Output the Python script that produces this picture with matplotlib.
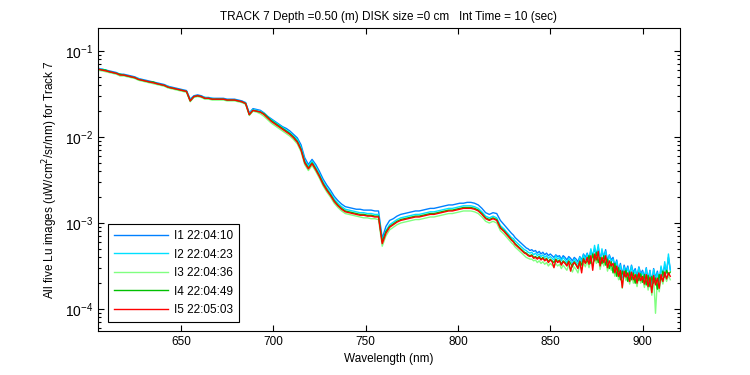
import numpy as np
import matplotlib
matplotlib.use("Agg")
import matplotlib.pyplot as plt
from matplotlib.ticker import FixedLocator, FixedFormatter

# --- Data (log10 of Lu, uW/cm^2/sr/nm) ---
# wavelength grid: 2 nm steps up to 829, then 1 nm steps to 915
wavelength = np.concatenate([np.arange(605, 830, 2), np.arange(830, 916, 1)])

labels = ["I1 22:04:10", "I2 22:04:23", "I3 22:04:36", "I4 22:04:49", "I5 22:05:03"]
colors = ["#0080ff", "#00e0ff", "#80ff80", "#00c000", "#ff0000"]

ytick_vals = [1e-4, 1e-3, 1e-2, 1e-1]
ytick_labels = ["$\\mathregular{10^{-4}}$", "$\\mathregular{10^{-3}}$",
                "$\\mathregular{10^{-2}}$", "$\\mathregular{10^{-1}}$"]

lu1_log = [
    -1.20, -1.21, -1.22, -1.23, -1.24, -1.25, -1.27, -1.27, -1.28, -1.29,
    -1.30, -1.32, -1.33, -1.34, -1.35, -1.36, -1.37, -1.38, -1.39, -1.41,
    -1.42, -1.43, -1.44, -1.45, -1.46, -1.56, -1.52, -1.51, -1.52, -1.54,
    -1.54, -1.55, -1.55, -1.55, -1.55, -1.56, -1.56, -1.56, -1.57, -1.58,
    -1.60, -1.72, -1.67, -1.68, -1.69, -1.72, -1.76, -1.79, -1.82, -1.85,
    -1.88, -1.90, -1.93, -1.97, -2.01, -2.09, -2.24, -2.32, -2.26, -2.32,
    -2.40, -2.49, -2.56, -2.62, -2.69, -2.74, -2.78, -2.81, -2.82, -2.83,
    -2.84, -2.84, -2.85, -2.85, -2.85, -2.86, -2.86, -3.18, -3.04, -2.97,
    -2.95, -2.92, -2.90, -2.89, -2.88, -2.87, -2.86, -2.86, -2.85, -2.84,
    -2.83, -2.83, -2.82, -2.81, -2.80, -2.79, -2.79, -2.78, -2.77, -2.77,
    -2.76, -2.76, -2.77, -2.79, -2.83, -2.88, -2.90, -2.88, -2.89, -2.97,
    -3.02, -3.07, -3.12,
    -3.14, -3.17, -3.19, -3.21, -3.23, -3.25, -3.27, -3.29, -3.30, -3.32,
    -3.31, -3.33, -3.32, -3.35, -3.33, -3.36, -3.34, -3.37, -3.35, -3.38,
    -3.36, -3.38, -3.40, -3.37, -3.39, -3.38, -3.42, -3.38, -3.40, -3.43,
    -3.39, -3.41, -3.44, -3.40, -3.42, -3.45, -3.39, -3.43, -3.36, -3.40,
    -3.35, -3.41, -3.32, -3.38, -3.30, -3.37, -3.28, -3.42, -3.33, -3.39,
    -3.31, -3.44, -3.37, -3.43, -3.40, -3.50, -3.43, -3.55, -3.47, -3.60,
    -3.49, -3.56, -3.50, -3.60, -3.49, -3.58, -3.53, -3.62, -3.51, -3.59,
    -3.55, -3.63, -3.52, -3.66, -3.55, -3.70, -3.53, -3.64, -3.56, -3.67,
    -3.52, -3.60, -3.49, -3.57, -3.40, -3.54,
]

lu2_log = [
    -1.21, -1.21, -1.22, -1.24, -1.25, -1.26, -1.27, -1.28, -1.29, -1.30,
    -1.31, -1.32, -1.34, -1.35, -1.36, -1.37, -1.38, -1.39, -1.40, -1.41,
    -1.43, -1.44, -1.45, -1.46, -1.47, -1.57, -1.53, -1.52, -1.53, -1.54,
    -1.55, -1.55, -1.56, -1.56, -1.56, -1.57, -1.57, -1.57, -1.58, -1.59,
    -1.60, -1.73, -1.68, -1.69, -1.70, -1.73, -1.77, -1.80, -1.83, -1.86,
    -1.89, -1.92, -1.95, -1.99, -2.03, -2.12, -2.27, -2.34, -2.28, -2.35,
    -2.43, -2.52, -2.59, -2.65, -2.72, -2.77, -2.81, -2.84, -2.85, -2.86,
    -2.87, -2.88, -2.88, -2.89, -2.89, -2.90, -2.90, -3.21, -3.09, -3.02,
    -2.99, -2.96, -2.94, -2.93, -2.92, -2.91, -2.90, -2.90, -2.89, -2.88,
    -2.87, -2.87, -2.86, -2.85, -2.84, -2.83, -2.83, -2.82, -2.81, -2.80,
    -2.80, -2.80, -2.81, -2.83, -2.87, -2.92, -2.94, -2.92, -2.94, -3.03,
    -3.07, -3.12, -3.17,
    -3.18, -3.21, -3.23, -3.25, -3.27, -3.29, -3.31, -3.32, -3.34, -3.35,
    -3.34, -3.37, -3.35, -3.38, -3.36, -3.39, -3.37, -3.40, -3.38, -3.41,
    -3.39, -3.41, -3.43, -3.38, -3.42, -3.40, -3.44, -3.40, -3.43, -3.46,
    -3.41, -3.44, -3.47, -3.42, -3.45, -3.48, -3.40, -3.45, -3.37, -3.43,
    -3.36, -3.44, -3.30, -3.40, -3.26, -3.38, -3.25, -3.45, -3.30, -3.41,
    -3.33, -3.47, -3.38, -3.45, -3.42, -3.53, -3.45, -3.57, -3.49, -3.64,
    -3.51, -3.59, -3.52, -3.63, -3.50, -3.61, -3.55, -3.65, -3.52, -3.62,
    -3.57, -3.66, -3.53, -3.69, -3.56, -3.72, -3.54, -3.66, -3.58, -3.70,
    -3.50, -3.62, -3.45, -3.58, -3.36, -3.55,
]

lu3_log = [
    -1.22, -1.23, -1.24, -1.25, -1.26, -1.27, -1.29, -1.29, -1.30, -1.31,
    -1.32, -1.34, -1.35, -1.36, -1.37, -1.38, -1.39, -1.40, -1.41, -1.43,
    -1.44, -1.45, -1.46, -1.47, -1.48, -1.59, -1.54, -1.53, -1.54, -1.56,
    -1.56, -1.57, -1.57, -1.57, -1.57, -1.58, -1.58, -1.58, -1.59, -1.60,
    -1.62, -1.75, -1.70, -1.71, -1.73, -1.76, -1.80, -1.84, -1.87, -1.90,
    -1.93, -1.96, -1.99, -2.03, -2.08, -2.17, -2.32, -2.39, -2.33, -2.40,
    -2.48, -2.57, -2.64, -2.70, -2.77, -2.82, -2.86, -2.89, -2.90, -2.91,
    -2.92, -2.93, -2.94, -2.94, -2.95, -2.95, -2.96, -3.27, -3.15, -3.08,
    -3.05, -3.02, -3.00, -2.99, -2.98, -2.97, -2.96, -2.96, -2.95, -2.94,
    -2.93, -2.93, -2.92, -2.91, -2.90, -2.89, -2.89, -2.88, -2.87, -2.86,
    -2.86, -2.86, -2.87, -2.89, -2.93, -2.98, -3.00, -2.98, -3.00, -3.09,
    -3.13, -3.18, -3.23,
    -3.25, -3.28, -3.30, -3.32, -3.34, -3.36, -3.38, -3.40, -3.41, -3.42,
    -3.42, -3.44, -3.43, -3.46, -3.44, -3.47, -3.45, -3.48, -3.46, -3.50,
    -3.47, -3.49, -3.51, -3.47, -3.50, -3.48, -3.53, -3.49, -3.52, -3.55,
    -3.49, -3.53, -3.57, -3.51, -3.54, -3.58, -3.49, -3.54, -3.46, -3.51,
    -3.44, -3.52, -3.42, -3.49, -3.40, -3.47, -3.38, -3.54, -3.44, -3.50,
    -3.42, -3.56, -3.48, -3.55, -3.51, -3.62, -3.54, -3.66, -3.58, -3.76,
    -3.59, -3.67, -3.61, -3.71, -3.60, -3.70, -3.64, -3.74, -3.61, -3.70,
    -3.65, -3.75, -3.63, -3.78, -3.66, -3.84, -3.64, -4.05, -3.67, -3.80,
    -3.63, -3.71, -3.60, -3.68, -3.61, -3.66,
]

lu4_log = [
    -1.21, -1.22, -1.22, -1.24, -1.25, -1.26, -1.27, -1.28, -1.29, -1.30,
    -1.31, -1.33, -1.34, -1.35, -1.36, -1.36, -1.38, -1.39, -1.40, -1.42,
    -1.43, -1.44, -1.45, -1.46, -1.47, -1.58, -1.53, -1.52, -1.53, -1.55,
    -1.55, -1.56, -1.56, -1.56, -1.56, -1.57, -1.57, -1.57, -1.58, -1.59,
    -1.61, -1.74, -1.69, -1.70, -1.71, -1.73, -1.77, -1.81, -1.84, -1.87,
    -1.90, -1.93, -1.96, -2.00, -2.05, -2.14, -2.29, -2.36, -2.30, -2.37,
    -2.45, -2.54, -2.61, -2.67, -2.74, -2.79, -2.83, -2.86, -2.87, -2.88,
    -2.89, -2.90, -2.90, -2.91, -2.91, -2.92, -2.92, -3.22, -3.10, -3.04,
    -3.01, -2.98, -2.96, -2.95, -2.94, -2.93, -2.92, -2.92, -2.91, -2.90,
    -2.89, -2.89, -2.88, -2.87, -2.86, -2.85, -2.85, -2.84, -2.83, -2.82,
    -2.82, -2.82, -2.83, -2.85, -2.89, -2.94, -2.96, -2.94, -2.96, -3.05,
    -3.09, -3.14, -3.19,
    -3.21, -3.24, -3.26, -3.28, -3.30, -3.32, -3.34, -3.35, -3.37, -3.38,
    -3.37, -3.40, -3.39, -3.41, -3.39, -3.42, -3.40, -3.43, -3.41, -3.45,
    -3.42, -3.44, -3.46, -3.42, -3.45, -3.43, -3.48, -3.44, -3.46, -3.49,
    -3.44, -3.47, -3.51, -3.45, -3.48, -3.52, -3.44, -3.49, -3.41, -3.46,
    -3.45, -3.38, -3.47, -3.36, -3.44, -3.34, -3.46, -3.40, -3.47, -3.38,
    -3.49, -3.42, -3.53, -3.45, -3.58, -3.47, -3.62, -3.52, -3.66, -3.56,
    -3.62, -3.55, -3.68, -3.57, -3.66, -3.58, -3.70, -3.60, -3.67, -3.59,
    -3.69, -3.60, -3.72, -3.61, -3.74, -3.62, -3.70, -3.64, -3.77, -3.60,
    -3.66, -3.56, -3.63, -3.55, -3.60, -3.57,
]

lu5_log = [
    -1.21, -1.22, -1.23, -1.24, -1.25, -1.26, -1.28, -1.28, -1.29, -1.30,
    -1.31, -1.33, -1.34, -1.35, -1.36, -1.37, -1.38, -1.39, -1.40, -1.42,
    -1.43, -1.44, -1.45, -1.46, -1.47, -1.58, -1.53, -1.52, -1.53, -1.55,
    -1.55, -1.56, -1.56, -1.56, -1.56, -1.57, -1.57, -1.57, -1.58, -1.59,
    -1.61, -1.74, -1.69, -1.70, -1.71, -1.74, -1.78, -1.82, -1.85, -1.88,
    -1.91, -1.94, -1.97, -2.01, -2.06, -2.15, -2.30, -2.37, -2.31, -2.38,
    -2.46, -2.55, -2.62, -2.68, -2.75, -2.80, -2.84, -2.87, -2.88, -2.89,
    -2.90, -2.91, -2.91, -2.92, -2.92, -2.93, -2.93, -3.24, -3.12, -3.05,
    -3.02, -2.99, -2.97, -2.96, -2.95, -2.94, -2.93, -2.93, -2.92, -2.91,
    -2.90, -2.90, -2.89, -2.88, -2.87, -2.86, -2.86, -2.85, -2.84, -2.83,
    -2.83, -2.83, -2.84, -2.86, -2.90, -2.95, -2.97, -2.95, -2.97, -3.06,
    -3.10, -3.15, -3.20,
    -3.22, -3.25, -3.27, -3.29, -3.31, -3.33, -3.35, -3.36, -3.38, -3.39,
    -3.38, -3.41, -3.40, -3.42, -3.40, -3.43, -3.41, -3.44, -3.42, -3.46,
    -3.43, -3.45, -3.52, -3.43, -3.46, -3.44, -3.49, -3.45, -3.47, -3.50,
    -3.45, -3.56, -3.48, -3.46, -3.49, -3.53, -3.45, -3.58, -3.42, -3.47,
    -3.40, -3.48, -3.38, -3.55, -3.36, -3.43, -3.33, -3.50, -3.40, -3.46,
    -3.38, -3.52, -3.44, -3.50, -3.47, -3.58, -3.50, -3.62, -3.55, -3.75,
    -3.56, -3.63, -3.58, -3.68, -3.57, -3.66, -3.60, -3.70, -3.58, -3.67,
    -3.62, -3.71, -3.60, -3.74, -3.63, -3.81, -3.61, -3.72, -3.64, -3.76,
    -3.60, -3.68, -3.57, -3.65, -3.58, -3.62,
]

series = [lu1_log, lu2_log, lu3_log, lu4_log, lu5_log]

# --- Plot ---
plt.rcParams['font.family'] = ['Liberation Sans', 'DejaVu Sans']
plt.rcParams['font.size'] = 8.5
plt.rcParams['axes.unicode_minus'] = False

fig = plt.figure(figsize=(7.5, 3.75), dpi=100)
ax = fig.add_axes([0.131, 0.1173, 0.775, 0.8072])

for vals, lab, col in zip(series, labels, colors):
    ax.plot(wavelength, 10.0 ** np.array(vals), color=col, lw=1.0, label=lab)

ax.set_yscale('log')
ax.set_xlim(605.2, 920)
ax.set_ylim(10 ** -4.256, 10 ** -0.736)
ax.set_xticks([650, 700, 750, 800, 850, 900])
ax.yaxis.set_major_locator(FixedLocator(ytick_vals))
ax.yaxis.set_major_formatter(FixedFormatter(ytick_labels))
ax.tick_params(axis='y', which='major', labelsize=10)

ax.tick_params(which='both', direction='in', top=True, right=True, width=0.8)
ax.tick_params(which='major', length=4)
ax.tick_params(which='minor', length=2.5)
for sp in ax.spines.values():
    sp.set_linewidth(0.8)

ax.set_title("TRACK 7 Depth =0.50 (m) DISK size =0 cm   Int Time = 10 (sec)", fontsize=8.5, pad=6)
ax.set_xlabel("Wavelength (nm)")
ax.set_ylabel("All five Lu images (uW/cm$^2$/sr/nm) for Track 7", labelpad=4)

leg = ax.legend(loc='lower left', bbox_to_anchor=(0.0167, 0.03), borderaxespad=0,
                fancybox=False, framealpha=1, edgecolor='black',
                handlelength=4.6, handletextpad=0.5, labelspacing=0.55,
                borderpad=0.5)
leg.get_frame().set_linewidth(0.8)

fig.savefig("out.png", dpi=100)
